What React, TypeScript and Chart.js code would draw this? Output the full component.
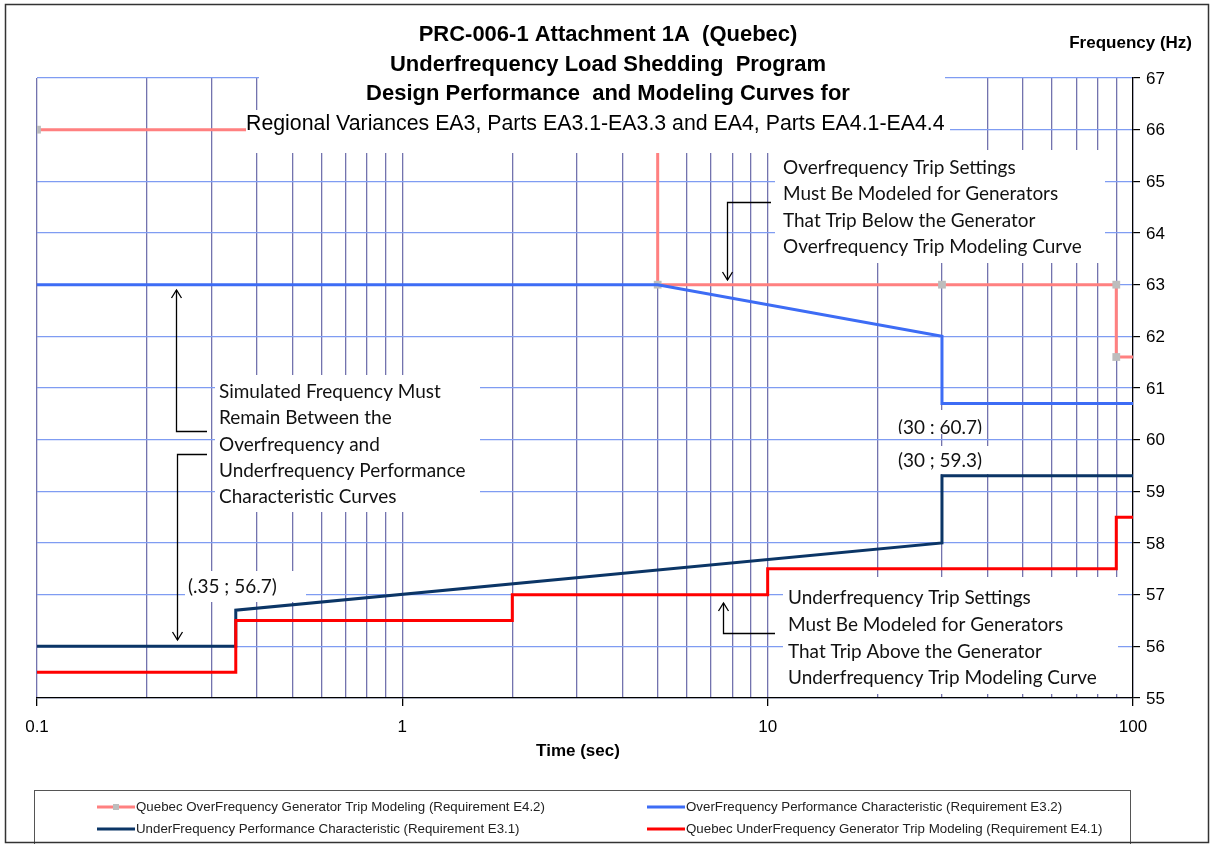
import React, { useEffect, useRef } from "react";
import { Chart, registerables } from "chart.js";

Chart.register(...registerables);

// ---------- data ----------
const ofTripX = [0.1, 5, 5, 30, 90, 90, 100];
const ofTripY = [66, 66, 63, 63, 63, 61.6, 61.6];

const ofPerfX = [0.1, 5, 30, 30, 100];
const ofPerfY = [63, 63, 62, 60.7, 60.7];

const ufPerfX = [0.1, 0.35, 0.35, 30, 30, 100];
const ufPerfY = [56, 56, 56.7, 58, 59.3, 59.3];

const ufTripX = [0.1, 0.35, 0.35, 2, 2, 10, 10, 90, 90, 100];
const ufTripY = [55.5, 55.5, 56.5, 56.5, 57, 57, 57.5, 57.5, 58.5, 58.5];

const seriesLabels = [
  "Quebec OverFrequency Generator Trip Modeling (Requirement E4.2)",
  "OverFrequency Performance Characteristic (Requirement E3.2)",
  "UnderFrequency Performance Characteristic (Requirement E3.1)",
  "Quebec UnderFrequency Generator Trip Modeling (Requirement E4.1)",
];

const xTicks = [
  0.1, 0.2, 0.3, 0.4, 0.5, 0.6, 0.7, 0.8, 0.9,
  1, 2, 3, 4, 5, 6, 7, 8, 9,
  10, 20, 30, 40, 50, 60, 70, 80, 90, 100,
];
const xMajorTicks = [0.1, 1, 10, 100];
const xMajorLabels = ["0.1", "1", "10", "100"];
const yMin = 55;
const yMax = 67;

const titleLines = [
  "PRC-006-1 Attachment 1A  (Quebec)",
  "Underfrequency Load Shedding  Program",
  "Design Performance  and Modeling Curves for",
];
const subtitle = "Regional Variances EA3, Parts EA3.1-EA3.3 and EA4, Parts EA4.1-EA4.4";
const xAxisTitle = "Time (sec)";
const yAxisTitle = "Frequency (Hz)";

const noteOver = [
  "Overfrequency Trip Settings",
  "Must Be Modeled for Generators",
  "That Trip Below the Generator",
  "Overfrequency Trip Modeling Curve",
];
const noteBetween = [
  "Simulated Frequency Must",
  "Remain Between the",
  "Overfrequency and",
  "Underfrequency Performance",
  "Characteristic Curves",
];
const noteUnder = [
  "Underfrequency Trip Settings",
  "Must Be Modeled for Generators",
  "That Trip Above the Generator",
  "Underfrequency Trip Modeling Curve",
];
const pointLabel1 = "(.35 ; 56.7)";
const pointLabel2 = "(30 ; 60.7)";
const pointLabel3 = "(30 ; 59.3)";

// ---------- style ----------
const W = 1220;
const H = 844;
const AREA = { left: 37, top: 78, right: 1133, bottom: 698 };
const PINK = "#FF8080";
const BLUE = "#3D6CF5";
const NAVY = "#0B3566";
const RED = "#FF0000";
const MARK = "#BDBDBD";
const HGRID = "#7F9CF2";
const VGRID = "#7373AE";
const SANS = "'Liberation Sans', Arial, sans-serif";
const HUM = "Lato, 'Open Sans', sans-serif";

function fitSize(ctx: CanvasRenderingContext2D, text: string, target: number, weight: string, family: string) {
  ctx.font = `${weight} 100px ${family}`;
  const w = ctx.measureText(text).width;
  return (100 * target) / w;
}

function arrowHead(ctx: CanvasRenderingContext2D, x: number, y: number, dir: number) {
  ctx.beginPath();
  ctx.moveTo(x - 5, y - dir * 8);
  ctx.lineTo(x, y);
  ctx.lineTo(x + 5, y - dir * 8);
  ctx.stroke();
}

const overlayPlugin = {
  id: "overlay",
  afterDraw(chart: any) {
    const ctx: CanvasRenderingContext2D = chart.ctx;
    const xs = chart.scales.x;
    const ys = chart.scales.y;
    ctx.save();

    // white text boxes covering grid
    ctx.fillStyle = "#ffffff";
    const boxes = [
      [259, 12, 686, 98],
      [246, 110, 704, 43],
      [775, 150, 330, 113],
      [215, 375, 265, 137],
      [185, 571, 121, 31],
      [895, 410, 92, 24],
      [895, 446, 95, 28],
      [783, 577, 335, 117],
    ];
    boxes.forEach(([x, y, w, h]) => ctx.fillRect(x, y, w, h));

    // title
    ctx.fillStyle = "#000";
    ctx.textBaseline = "middle";
    ctx.textAlign = "center";
    const ts = fitSize(ctx, titleLines[2], 484, "bold", SANS);
    ctx.font = `bold ${ts}px ${SANS}`;
    titleLines.forEach((t, i) => ctx.fillText(t, 608, 35 + i * 29.7));
    const ss = fitSize(ctx, subtitle, 699, "normal", SANS);
    ctx.font = `normal ${ss}px ${SANS}`;
    ctx.textAlign = "left";
    ctx.fillText(subtitle, 246, 124);

    // notes
    const ns = fitSize(ctx, noteUnder[3], 309, "normal", HUM);
    ctx.font = `normal ${ns}px ${HUM}`;
    ctx.fillStyle = "#111";
    noteOver.forEach((t, i) => ctx.fillText(t, 783, 168 + i * 26.3));
    noteBetween.forEach((t, i) => ctx.fillText(t, 219, 392 + i * 26.3));
    noteUnder.forEach((t, i) => ctx.fillText(t, 788, 598 + i * 26.7));
    ctx.fillText(pointLabel1, 188, 587);
    ctx.textAlign = "center";
    ctx.save();
    ctx.beginPath();
    ctx.rect(880, 405, 120, 29);
    ctx.clip();
    ctx.fillText(pointLabel2, 940, 428);
    ctx.restore();
    ctx.fillText(pointLabel3, 940, 461);

    // arrows
    ctx.strokeStyle = "#000";
    ctx.lineWidth = 1.3;
    ctx.beginPath();
    ctx.moveTo(771, 202.5);
    ctx.lineTo(727.5, 202.5);
    ctx.lineTo(727.5, 280);
    ctx.stroke();
    arrowHead(ctx, 727.5, 280, 1);

    ctx.beginPath();
    ctx.moveTo(207, 431.5);
    ctx.lineTo(176.5, 431.5);
    ctx.lineTo(176.5, 290);
    ctx.stroke();
    arrowHead(ctx, 176.5, 290, -1);

    ctx.beginPath();
    ctx.moveTo(207, 454.5);
    ctx.lineTo(177.5, 454.5);
    ctx.lineTo(177.5, 640);
    ctx.stroke();
    arrowHead(ctx, 177.5, 640, 1);

    ctx.beginPath();
    ctx.moveTo(775, 633.5);
    ctx.lineTo(723.5, 633.5);
    ctx.lineTo(723.5, 603);
    ctx.stroke();
    arrowHead(ctx, 723.5, 603, -1);

    // axis labels
    ctx.fillStyle = "#000";
    ctx.font = `normal 17px ${SANS}`;
    ctx.textAlign = "left";
    for (let v = yMin; v <= yMax; v++) {
      ctx.fillText(String(v), 1146, ys.getPixelForValue(v) + 1);
    }
    ctx.textAlign = "center";
    xMajorTicks.forEach((v, i) => ctx.fillText(xMajorLabels[i], xs.getPixelForValue(v), 727));
    ctx.font = `bold 17px ${SANS}`;
    ctx.fillText(xAxisTitle, 578, 751);
    ctx.textAlign = "right";
    ctx.fillText(yAxisTitle, 1192, 43);

    // legend
    ctx.fillStyle = "#fff";
    ctx.fillRect(34, 790, 1097, 60);
    ctx.strokeStyle = "#555";
    ctx.lineWidth = 1;
    ctx.strokeRect(34.5, 790.5, 1096, 60);
    const legendColors = [PINK, BLUE, NAVY, RED];
    const legendPos = [
      [97, 807],
      [647, 807],
      [97, 829],
      [647, 829],
    ];
    ctx.font = `normal 13.3px ${SANS}`;
    ctx.textAlign = "left";
    seriesLabels.forEach((lab, i) => {
      const [lx, ly] = legendPos[i];
      ctx.strokeStyle = legendColors[i];
      ctx.lineWidth = 3;
      ctx.beginPath();
      ctx.moveTo(lx, ly);
      ctx.lineTo(lx + 38, ly);
      ctx.stroke();
      if (i === 0) {
        ctx.fillStyle = MARK;
        ctx.fillRect(lx + 16, ly - 3, 6, 6);
      }
      ctx.fillStyle = "#222";
      ctx.fillText(lab, lx + 39, ly);
    });

    // outer frame
    ctx.strokeStyle = "#333";
    ctx.lineWidth = 1.5;
    ctx.strokeRect(5.5, 4.5, 1203, 838);

    ctx.restore();
  },
};

export default function App() {
  const ref = useRef<HTMLCanvasElement | null>(null);

  useEffect(() => {
    if (!ref.current) return;
    const mk = (xs: number[], ys: number[]) => xs.map((x, i) => ({ x, y: ys[i] }));
    const lastPink = ofTripX.length - 1;
    const chart = new Chart(ref.current, {
      type: "line",
      data: {
        datasets: [
          {
            label: seriesLabels[0],
            data: mk(ofTripX, ofTripY),
            borderColor: PINK,
            borderWidth: 3,
            pointStyle: "rect",
            pointRadius: (c: any) => (c.dataIndex === lastPink ? 0 : 5.5),
            pointBackgroundColor: MARK,
            pointBorderColor: MARK,
            pointBorderWidth: 0,
            order: 4,
          },
          {
            label: seriesLabels[1],
            data: mk(ofPerfX, ofPerfY),
            borderColor: BLUE,
            borderWidth: 3,
            pointRadius: 0,
            order: 3,
          },
          {
            label: seriesLabels[2],
            data: mk(ufPerfX, ufPerfY),
            borderColor: NAVY,
            borderWidth: 3,
            pointRadius: 0,
            order: 2,
          },
          {
            label: seriesLabels[3],
            data: mk(ufTripX, ufTripY),
            borderColor: RED,
            borderWidth: 3,
            pointRadius: 0,
            order: 1,
          },
        ],
      } as any,
      options: {
        responsive: false,
        animation: false,
        devicePixelRatio: 1,
        events: [],
        layout: { padding: { left: AREA.left, top: AREA.top, right: 0, bottom: 0 } },
        elements: {
          line: { tension: 0, fill: false, borderJoinStyle: "miter", borderCapStyle: "butt" },
        },
        plugins: {
          legend: { display: false },
          title: { display: false },
          tooltip: { enabled: false },
        },
        scales: {
          x: {
            type: "logarithmic",
            min: 0.1,
            max: 100,
            afterBuildTicks: (s: any) => {
              s.ticks = xTicks.map((v) => ({ value: v }));
            },
            afterFit: (s: any) => {
              s.height = H - AREA.bottom;
            },
            ticks: { display: false },
            grid: {
              color: VGRID,
              lineWidth: 1.3,
              tickLength: 8,
              tickColor: (c: any) =>
                c.tick && xMajorTicks.includes(c.tick.value) ? "#000" : "rgba(0,0,0,0)",
            },
            border: { display: true, color: "#000", width: 1.2 },
          },
          y: {
            type: "linear",
            position: "right",
            min: yMin,
            max: yMax,
            afterFit: (s: any) => {
              s.width = W - AREA.right;
            },
            ticks: { display: false, stepSize: 1 },
            grid: { color: HGRID, lineWidth: 1.2, tickLength: 7, tickColor: "#000" },
            border: { display: true, color: "#000", width: 1.2 },
          },
        },
      } as any,
      plugins: [overlayPlugin],
    });
    return () => chart.destroy();
  }, []);

  return (
    <div style={{ position: "fixed", left: 0, top: 0, width: W, height: H, background: "#fff" }}>
      <canvas ref={ref} width={W} height={H} style={{ display: "block", width: W, height: H }} />
    </div>
  );
}
